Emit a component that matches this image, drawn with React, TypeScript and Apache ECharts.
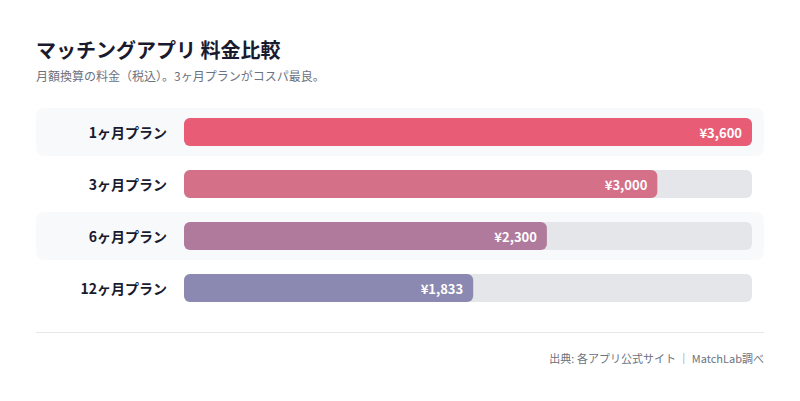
import { useRef, useEffect } from 'react'
import * as echarts from 'echarts'

const plans = ['1ヶ月プラン', '3ヶ月プラン', '6ヶ月プラン', '12ヶ月プラン']
const prices = [3600, 3000, 2300, 1833]
const barColors = ['#e85d75', '#d47087', '#b07a9c', '#8b89b1']
const priceMax = 3600
// 行の背景（奇数行のみ）
const bandRows = [1, 0, 1, 0]

const FONT = '"Noto Sans CJK JP", "Noto Sans", sans-serif'

export default function App() {
  const chartRef = useRef<HTMLDivElement>(null)

  useEffect(() => {
    if (!chartRef.current) return
    const chart = echarts.init(chartRef.current, undefined, { renderer: 'svg' })

    const option: echarts.EChartsOption = {
      animation: false,
      backgroundColor: '#ffffff',
      title: {
        text: 'マッチングアプリ 料金比較',
        subtext: '月額換算の料金（税込）。3ヶ月プランがコスパ最良。',
        left: 31,
        top: 34,
        itemGap: 10,
        textStyle: { fontFamily: FONT, fontSize: 20, fontWeight: 'bold', color: '#1a1a2e' },
        subtextStyle: { fontFamily: FONT, fontSize: 12, color: '#6b7280' },
      },
      grid: [
        { left: 36, right: 36, top: 106, bottom: 87 },
        { left: 184, right: 48, top: 106, bottom: 87 },
      ],
      xAxis: [
        { type: 'value', gridIndex: 0, min: 0, max: 1, show: false },
        { type: 'value', gridIndex: 1, min: 0, max: priceMax, show: false },
      ],
      yAxis: [
        {
          type: 'category',
          gridIndex: 0,
          data: plans,
          inverse: true,
          show: false,
        },
        {
          type: 'category',
          gridIndex: 1,
          data: plans,
          inverse: true,
          z: 10,
          axisLine: { show: false },
          axisTick: { show: false },
          axisLabel: {
            interval: 0,
            margin: 17,
            fontFamily: FONT,
            fontSize: 14,
            fontWeight: 'bold',
            color: '#1a1a2e',
          },
        },
      ],
      series: [
        {
          type: 'bar',
          xAxisIndex: 0,
          yAxisIndex: 0,
          barWidth: 48,
          silent: true,
          z: 1,
          data: bandRows.map((b) => ({
            value: b,
            itemStyle: { color: '#f8f9fb', borderRadius: 8 },
          })),
        },
        {
          type: 'bar',
          xAxisIndex: 1,
          yAxisIndex: 1,
          barWidth: 28,
          silent: true,
          data: prices.map(() => priceMax),
          itemStyle: { color: '#e5e6ea', borderRadius: 6 },
        },
        {
          type: 'bar',
          xAxisIndex: 1,
          yAxisIndex: 1,
          barWidth: 28,
          barGap: '-100%',
          data: prices.map((v, i) => ({
            value: v,
            itemStyle: { color: barColors[i], borderRadius: 6 },
          })),
          label: {
            show: true,
            position: 'insideRight',
            distance: 10,
            formatter: (p: any) => '¥' + p.value.toLocaleString('en-US'),
            fontFamily: FONT,
            fontSize: 13,
            fontWeight: 'bold',
            color: '#ffffff',
          },
        },
      ],
      graphic: [
        {
          type: 'line',
          shape: { x1: 36, y1: 332.5, x2: 764, y2: 332.5 },
          style: { stroke: '#e5e7eb', lineWidth: 1 },
        },
        {
          type: 'text',
          right: 36,
          top: 352,
          style: {
            text: '出典: 各アプリ公式サイト ｜ MatchLab調べ',
            fontFamily: FONT,
            fontSize: 11,
            fill: '#6b7280',
          },
        },
      ],
    }

    chart.setOption(option)
    return () => chart.dispose()
  }, [])

  return (
    <div
      ref={chartRef}
      style={{ position: 'absolute', left: 0, top: 0, width: 800, height: 401 }}
    />
  )
}
